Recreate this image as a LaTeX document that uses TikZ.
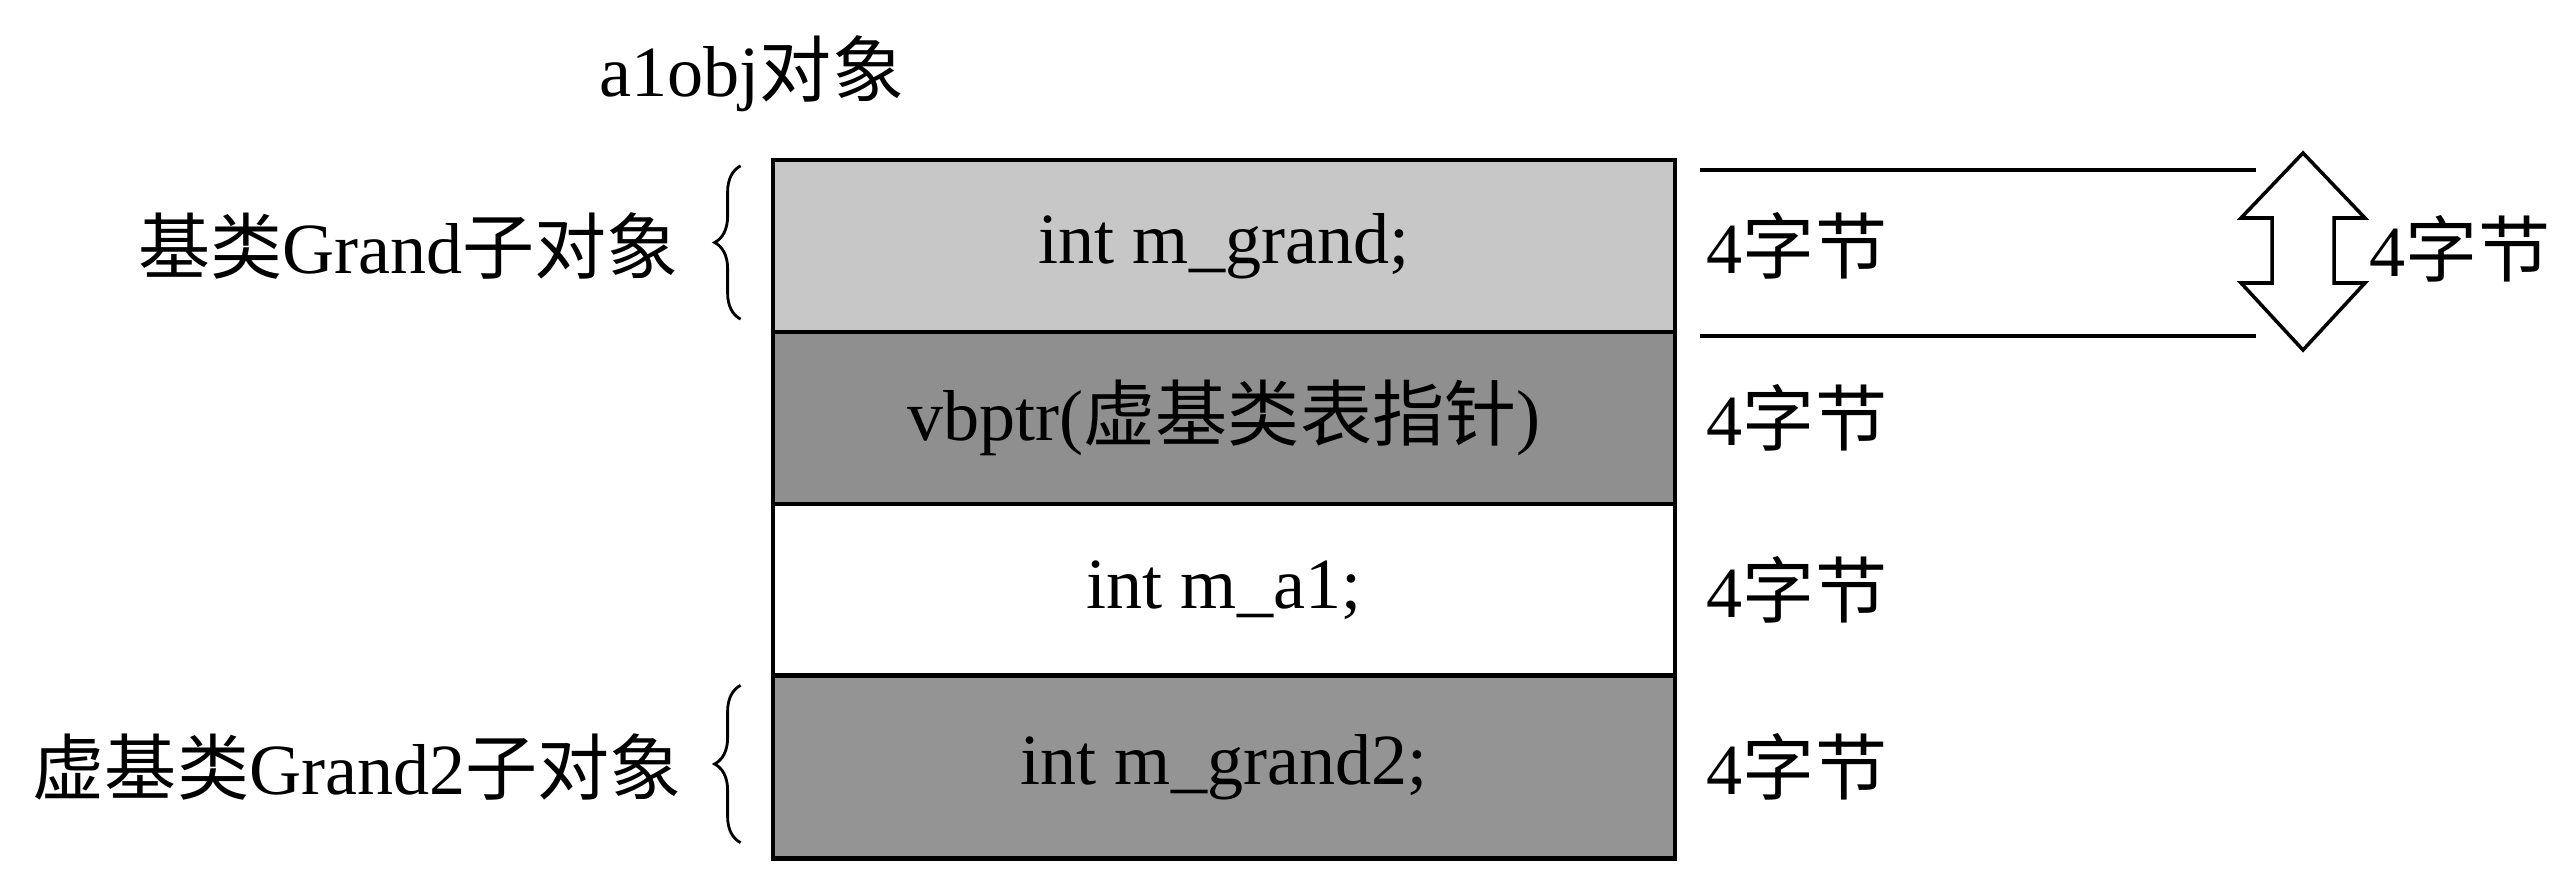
\documentclass[tikz,border=0pt]{standalone}
\usepackage{fontspec}
\setmainfont{Liberation Serif}
\newfontfamily\cjk{Noto Sans CJK SC}
\usetikzlibrary{decorations.pathreplacing}
\tikzset{px/.style={x=.01cm,y=-.01cm,font={\fontsize{20.5}{24}\selectfont},line width=1.1pt}}
\tikzset{cell/.style={draw,line width=1.2pt,minimum width=9.02cm,inner sep=0pt}}
\tikzset{lbl/.style={inner sep=0pt}}
\tikzset{curly/.style={decorate,decoration={brace,amplitude=.26cm},line width=.8pt}}

\begin{document}
\begin{tikzpicture}[px]%
    \path [use as bounding box] (0,0) rectangle (2571,882);
    % memory layout of the object
    \foreach \i/\y/\h/\c/\t in {1/246/1.72/black!22/{int m\_grand;},2/418/1.72/black!44/{vbptr({\cjk 虚基类表指针})},
                                3/590/1.72/white/{int m\_a1;},4/767/1.83/black!42/{int m\_grand2;}} {
        \path (1224,\y) node (r\i) [cell,minimum height=\h cm,fill=\c] {\t};
        \path (1705,\y) node (s\i) [lbl,anchor=west] {4{\cjk 字节}};
    }
    \path (752,74) node (title) [lbl] {a1obj{\cjk 对象}};
    % sub-object braces
    \path ([xshift=-.9cm]r1.west) node (g1) [lbl,anchor=east] {{\cjk 基类}Grand{\cjk 子对象}};
    \path ([xshift=-.87cm]r4.west) node (g2) [lbl,anchor=east] {{\cjk 虚基类}Grand2{\cjk 子对象}};
    \path [draw,curly] ([xshift=-.3cm,yshift=.15cm]r1.south west) -- ([xshift=-.3cm,yshift=-.08cm]r1.north west);
    \path [draw,curly] ([xshift=-.3cm,yshift=.18cm]r4.south west) -- ([xshift=-.3cm,yshift=-.12cm]r4.north west);
    % size of one member
    \coordinate (top) at (1700,170);
    \coordinate (bot) at (1700,336);
    \path [draw] (top) -- +(556,0);
    \path [draw] (bot) -- +(556,0);
    \path [draw,line width=1pt,line join=miter] (2303,153) -- (2365,218) -- (2334,218) -- (2334,283) -- (2365,283)
        -- (2303,350) -- (2241,283) -- (2272,283) -- (2272,218) -- (2241,218) -- cycle;
    \path (2368,249) node (sz) [lbl,anchor=west] {4{\cjk 字节}};
\end{tikzpicture}
\end{document}
